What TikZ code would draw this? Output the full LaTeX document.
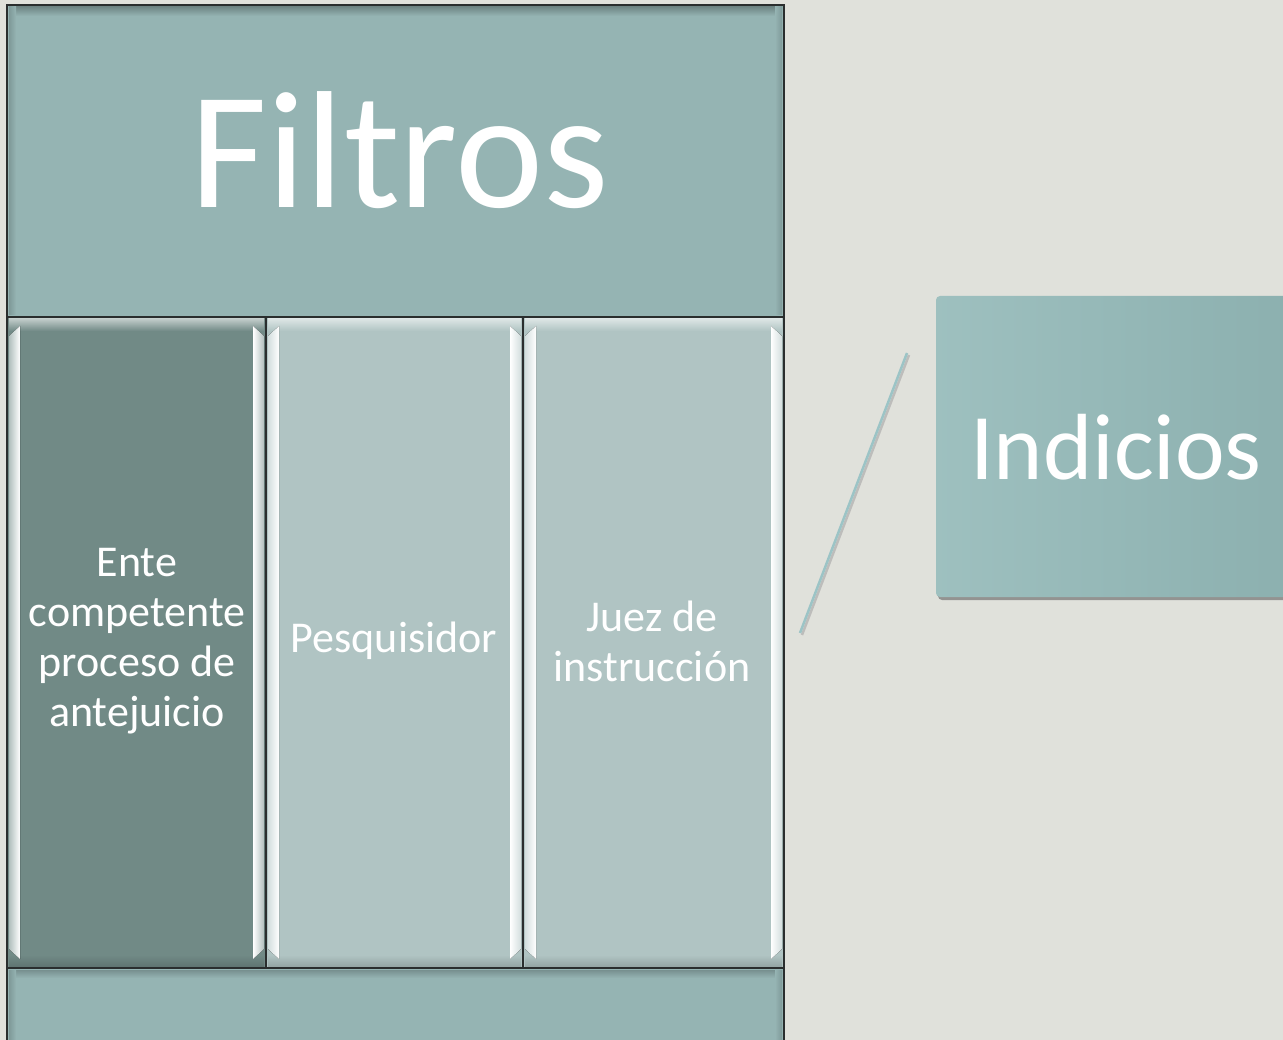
\documentclass[tikz,border=0pt]{standalone}
\usepackage{fontspec}
\setmainfont{Carlito}
\definecolor{bgc}{HTML}{E0E1DB}
\definecolor{bandc}{HTML}{95B4B3}
\definecolor{darkc}{HTML}{718A86}
\definecolor{lightc}{HTML}{B0C4C3}
\definecolor{indc}{HTML}{93B9B8}
\definecolor{linec}{HTML}{9CC4C6}
\definecolor{framec}{HTML}{2A2E2E}
\tikzset{
  band/.style={draw=framec, line width=1.6pt, fill=bandc, inner sep=0pt, outer sep=0pt},
  colbox/.style={draw=framec, line width=1.4pt, inner sep=0pt, outer sep=0pt},
  coltext/.style={text=white, align=center, font=\fontsize{44}{50}\selectfont},
  bigtext/.style={text=white, font=\fontsize{167}{190}\selectfont},
  indbox/.style={rounded corners=4pt, inner sep=0pt, outer sep=0pt},
}
\begin{document}
\begin{tikzpicture}[x=1pt,y=-1pt]
\useasboundingbox (0,0) rectangle (1283,1040);
\fill[bgc] (0,0) rectangle (1283,1040);

% top band
\node[band, minimum width=777pt, minimum height=312pt, anchor=north west] (top) at (7,5) {};
\fill[top color=black!25!bandc, bottom color=bandc] (9,7) rectangle (782,16);
\fill[left color=black!15!bandc, right color=bandc] (9,7) rectangle (16,315);
\fill[right color=black!15!bandc, left color=bandc] (775,7) rectangle (782,315);
\node[bigtext, anchor=base] (filtros) at (400,208) {Filtros};

% bottom band
\node[band, minimum width=777pt, minimum height=80pt, anchor=north west] (bottom) at (7,968) {};
\fill[top color=black!20!bandc, bottom color=bandc] (9,970) rectangle (782,978);
\fill[left color=black!15!bandc, right color=bandc] (9,970) rectangle (16,1040);
\fill[right color=black!15!bandc, left color=bandc] (775,970) rectangle (782,1040);

% columns
\node[colbox, fill=darkc, minimum width=259pt, minimum height=651pt, anchor=north west] (c1) at (7,317) {};
\node[colbox, fill=lightc, minimum width=257pt, minimum height=651pt, anchor=north west] (c2) at (266,317) {};
\node[colbox, fill=lightc, minimum width=261pt, minimum height=651pt, anchor=north west] (c3) at (523,317) {};

% bevel details
\foreach \xa/\xb/\cc in {7/266/darkc, 266/523/lightc, 523/784/lightc}{
  \fill[top color=white!55!\cc, bottom color=\cc] (\xa+2,319) rectangle (\xb-2,331);
  \fill[bottom color=black!15!\cc, top color=\cc] (\xa+2,955) rectangle (\xb-2,966);
  \fill[left color=white!45!\cc, right color=white]
    (\xa+2,336) -- (\xa+13,326) -- (\xa+13,959) -- (\xa+2,949) -- cycle;
  \fill[right color=white!45!\cc, left color=white]
    (\xb-13,326) -- (\xb-2,336) -- (\xb-2,949) -- (\xb-13,959) -- cycle;
  \draw[framec, line width=1.4pt] (\xa,317) rectangle (\xb,968);
}

\node[coltext] (t1) at (137,641) {Ente\\competente\\proceso de\\antejuicio};
\node[coltext] (t2) at (394,641) {Pesquisidor};
\node[coltext] (t3) at (652,641) {Juez de\\instrucción};

% outer frame
\draw[framec, line width=2pt] (7,5) rectangle (784,1048);

% slanted line
\coordinate (la) at (907,353);
\coordinate (lb) at (800,633);
\draw[black!35, line width=2.5pt, opacity=0.6] ([shift={(2,2)}]la) -- ([shift={(2,2)}]lb);
\draw[linec, line width=2.5pt] (la) -- (lb);

% Indicios box
\fill[black!55, rounded corners=4pt, opacity=0.7] (938,300) rectangle (1300,600);
\node[indbox, left color=indc!90!white, right color=indc!95!black, minimum width=360pt, minimum height=301pt, anchor=north west] (ind) at (936,296) {};
\node[text=white, font=\fontsize{94}{110}\selectfont, anchor=base] (indt) at (1116,479) {Indicios};
\end{tikzpicture}
\end{document}
